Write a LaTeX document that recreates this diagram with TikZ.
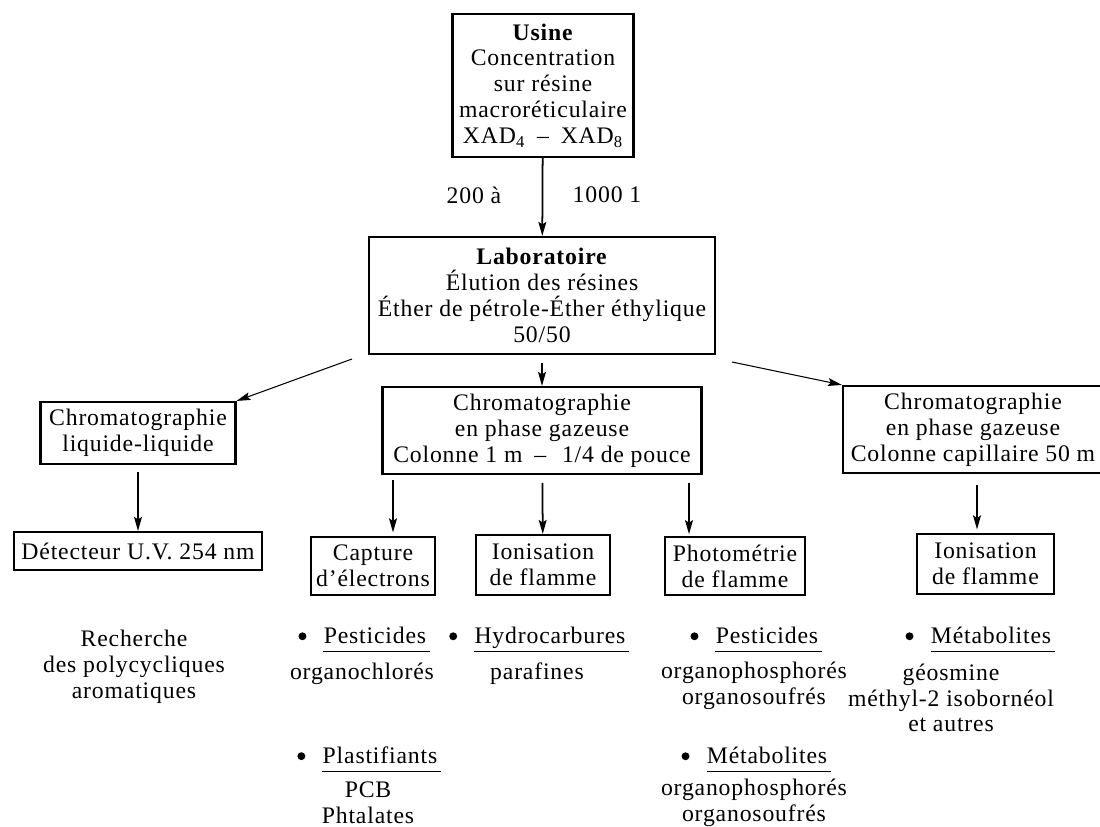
\documentclass[tikz,border=0pt]{standalone}
\usepackage{fontspec}
\setmainfont{Liberation Serif}[LetterSpace=3.5]
\usetikzlibrary{arrows.meta}

\begin{document}
\begin{tikzpicture}[x=0.02cm,y=-0.02cm,
  font=\fontsize{13.5}{14.7}\selectfont,
  box/.style={draw,line width=1.2pt,align=center,inner sep=0pt},
  txt/.style={align=center,inner sep=0pt},
  head/.style={inner sep=0pt,text depth=4pt,anchor=base},
  dot/.style={circle,fill,inner sep=0pt,minimum size=4.5pt},
  arr/.style={line width=1pt,-{Stealth[length=8pt,width=4.5pt,inset=1.5pt]}},
  thin arr/.style={arr,line width=0.6pt}]
\useasboundingbox (0,0) rectangle (1100,827);
% boxes
\draw (543,85.5) node[box,minimum width=181*0.02cm,minimum height=143*0.02cm] (usine)
  {\textbf{Usine}\\Concentration\\sur résine\\macroréticulaire\\XAD\textsubscript{4}\enspace--\enspace XAD\textsubscript{8}};
\draw (542,295.5) node[box,minimum width=346*0.02cm,minimum height=117*0.02cm] (lab)
  {\textbf{Laboratoire}\\Élution des résines\\Éther de pétrole-Éther éthylique\\50/50};
\draw (138,433) node[box,minimum width=195*0.02cm,minimum height=62*0.02cm] (ll)
  {Chromatographie\\liquide-liquide};
\draw (542,430.5) node[box,minimum width=319*0.02cm,minimum height=87*0.02cm] (gcm)
  {Chromatographie\\en phase gazeuse\\Colonne 1 m\enspace--\enspace\,1/4 de pouce};
\draw (973,429.5) node[box,minimum width=260*0.02cm,minimum height=87*0.02cm] (gcr)
  {Chromatographie\\en phase gazeuse\\Colonne capillaire 50 m};
\draw (138,551) node[box,minimum width=248*0.02cm,minimum height=38*0.02cm] (det)
  {Détecteur U.V. 254 nm};
\draw (373,566) node[box,minimum width=124*0.02cm,minimum height=58*0.02cm] (cap)
  {Capture\\d’électrons};
\draw (543,565) node[box,minimum width=134*0.02cm,minimum height=60*0.02cm] (ion)
  {Ionisation\\de flamme};
\draw (735,566) node[box,minimum width=140*0.02cm,minimum height=58*0.02cm] (pho)
  {Photométrie\\de flamme};
\draw (985.5,564) node[box,minimum width=137*0.02cm,minimum height=60*0.02cm] (ionr)
  {Ionisation\\de flamme};
% flow labels
\draw (474,195) node[txt] (q1) {200 à};
\draw (607,195) node[txt] (q2) {1000 1};
% free ends
\coordinate (l1) at (352,359);
\coordinate (r1) at (732,362);
\coordinate (c1) at (393,474);
\coordinate (c3) at (689,474);
\coordinate (c4) at (977,473);
% arrows
\path[arr] (usine) edge (lab);
\path[thin arr] (l1) edge (ll.north east);
\path[arr,shorten <=4.5pt] (lab) edge (gcm);
\path[thin arr] (r1) edge (gcr.north west);
\path[arr,shorten <=4pt] (ll) edge (det);
\path[arr,shorten <=3.5pt,shorten >=2pt] (c1) edge (c1 |- cap.north);
\path[arr,shorten <=4.5pt] (gcm) edge (ion);
\path[arr,shorten <=5pt,shorten >=1pt] (c3) edge (c3 |- pho.north);
\path[arr,shorten <=7pt,shorten >=2pt] (c4) edge (c4 |- ionr.north);
% results
\draw (134,667) node[txt] (rech) {Recherche\\des polycycliques\\aromatiques};
\draw (375,644) node[head] (pe1) {Pesticides};
\draw (550,644) node[head] (hyd) {Hydrocarbures};
\draw (767,644) node[head] (pe2) {Pesticides};
\draw (991,644) node[head] (me1) {Métabolites};
\draw (380,764) node[head] (pla) {Plastifiants};
\draw (767,764) node[head] (me2) {Métabolites};
\foreach \n in {pe1,hyd,pe2,me1,pla,me2}
  \draw[line width=0.7pt] (\n.south west) -- ([xshift=2pt]\n.south east)
    (\n.west) ++(-21,-3) node[dot] {};
\draw (362,674) node[txt] (o1) {organochlorés};
\draw (537,674) node[txt] (o2) {parafines};
\draw (754,686) node[txt] (o3) {organophosphorés\\organosoufrés};
\draw (951,698) node[txt] (o4) {géosmine\\méthyl-2 isobornéol\\et autres};
\draw (368,803) node[txt] (o5) {PCB\\Phtalates};
\draw (754,803) node[txt] (o6) {organophosphorés\\organosoufrés};
\end{tikzpicture}
\end{document}
